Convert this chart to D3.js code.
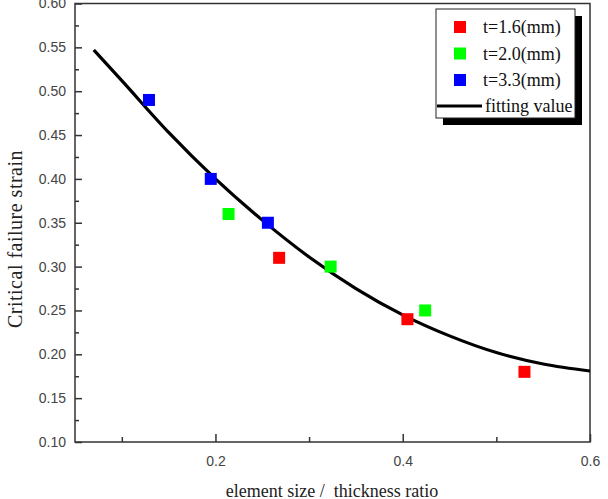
<!DOCTYPE html>
<html lang="en">
<head>
  <meta charset="UTF-8">
  <script src="https://d3js.org/d3.v7.min.js"></script>
  <title>Critical failure strain</title>
  <style>
    body { margin:0; background:#fff; }
    .tick text { font-family: 'Liberation Sans', Arial, sans-serif; font-size:14px; fill:#444; }
    .axisTitle { font-family: 'Liberation Serif', 'Times New Roman', serif; fill:#222; white-space:pre; }
    .legendText { font-family: 'Liberation Serif', 'Times New Roman', serif; font-size:18px; fill:#111; }
  </style>
</head>
<body>
<div id="myDataViz"></div>
<script>
  // data
  let seriesNames = ['t=1.6(mm)', 't=2.0(mm)', 't=3.3(mm)']
  let seriesColors = ['#ff0000', '#00ff00', '#0000ff']
  let ratio16 = [0.268, 0.405, 0.530]
  let strain16 = [0.31, 0.24, 0.18]
  let ratio20 = [0.214, 0.323, 0.424]
  let strain20 = [0.36, 0.30, 0.25]
  let ratio33 = [0.129, 0.195, 0.256]
  let strain33 = [0.49, 0.40, 0.35]
  let fitRatio = [0.07, 0.1, 0.15, 0.2, 0.25, 0.3, 0.35, 0.4, 0.45, 0.5, 0.55, 0.6]
  let fitStrain = [0.547, 0.512, 0.453, 0.400, 0.353, 0.311, 0.275, 0.245, 0.221, 0.202, 0.189, 0.181]
  let xTicks = [0.2, 0.4, 0.6]
  let xMinorTicks = [0.1, 0.3, 0.5]
  let yTicks = [0.10, 0.15, 0.20, 0.25, 0.30, 0.35, 0.40, 0.45, 0.50, 0.55, 0.60]
  let yMinorTicks = [0.125, 0.175, 0.225, 0.275, 0.325, 0.375, 0.425, 0.475, 0.525, 0.575]

  let width = 608, height = 499
  let plotLeft = 75, plotRight = 590, plotTop = 3.5, plotBottom = 442

  let svg = d3.select("#myDataViz").append("svg")
          .attr("width", width)
          .attr("height", height)

  let xScale = d3.scaleLinear().domain([0.05, 0.6]).range([plotLeft, plotRight])
  let yScale = d3.scaleLinear().domain([0.10, 0.60]).range([plotBottom, plotTop])

  // axes, ticks pointing inwards
  let xAxis = svg.append("g")
          .attr("transform", "translate(0," + plotBottom + ")")
          .call(d3.axisBottom(xScale).tickValues(xTicks).tickSize(-8).tickPadding(14).tickFormat(d3.format(".1f")))
  let xMinor = svg.append("g")
          .attr("transform", "translate(0," + plotBottom + ")")
          .call(d3.axisBottom(xScale).tickValues(xMinorTicks).tickSize(-5).tickFormat(""))
  let yAxis = svg.append("g")
          .attr("transform", "translate(" + plotLeft + ",0)")
          .call(d3.axisLeft(yScale).tickValues(yTicks).tickSize(-7).tickPadding(9).tickFormat(d3.format(".2f")))
  let yMinor = svg.append("g")
          .attr("transform", "translate(" + plotLeft + ",0)")
          .call(d3.axisLeft(yScale).tickValues(yMinorTicks).tickSize(-4).tickFormat(""))

  svg.selectAll(".domain").remove()
  svg.selectAll(".tick line").attr("stroke", "#333").attr("stroke-width", 1.5)

  // frame
  svg.append("rect")
          .attr("x", plotLeft).attr("y", plotTop)
          .attr("width", plotRight - plotLeft).attr("height", plotBottom - plotTop)
          .attr("fill", "none").attr("stroke", "#333").attr("stroke-width", 1.5)

  // fitting curve
  let fitData = fitRatio.map((d, i) => ({x: d, y: fitStrain[i]}))
  let line = d3.line()
          .x(d => xScale(d.x))
          .y(d => yScale(d.y))
          .curve(d3.curveMonotoneX)
  svg.append("path")
          .attr("d", line(fitData))
          .attr("fill", "none")
          .attr("stroke", "#000")
          .attr("stroke-width", 3.2)

  // squares for each thickness
  let groups = [[ratio16, strain16], [ratio20, strain20], [ratio33, strain33]]
  groups.forEach((g, k) => {
    let pts = g[0].map((d, i) => ({x: d, y: g[1][i]}))
    svg.append("g").selectAll("rect")
            .data(pts)
            .join("rect")
            .attr("x", d => xScale(d.x) - 6)
            .attr("y", d => yScale(d.y) - 6)
            .attr("width", 12)
            .attr("height", 12)
            .attr("fill", seriesColors[k])
  })

  // legend with drop shadow
  let lx = 436, ly = 9, lw = 139, lh = 109
  svg.append("rect").attr("x", lx + 7).attr("y", ly + 7).attr("width", lw).attr("height", lh).attr("fill", "#000")
  svg.append("rect").attr("x", lx).attr("y", ly).attr("width", lw).attr("height", lh)
          .attr("fill", "#fff").attr("stroke", "#222").attr("stroke-width", 1)
  seriesNames.forEach((name, i) => {
    let cy = 27 + i * 26.5
    svg.append("rect").attr("x", 454).attr("y", cy - 6).attr("width", 12).attr("height", 12).attr("fill", seriesColors[i])
    svg.append("text").attr("class", "legendText").attr("x", 483).attr("y", cy + 6).text(name)
  })
  svg.append("line").attr("x1", 437).attr("x2", 482).attr("y1", 106).attr("y2", 106)
          .attr("stroke", "#000").attr("stroke-width", 3)
  svg.append("text").attr("class", "legendText").attr("x", 485).attr("y", 112).text("fitting value")

  // axis titles
  svg.append("text")
          .attr("class", "axisTitle")
          .attr("text-anchor", "middle")
          .attr("transform", "translate(22,239) rotate(-90)")
          .style("font-size", "20px")
          .style("letter-spacing", "0.5px")
          .text("Critical failure strain")
  svg.append("text")
          .attr("class", "axisTitle")
          .attr("text-anchor", "middle")
          .attr("x", 332)
          .attr("y", 497)
          .style("font-size", "18px")
          .text("element size /  thickness ratio")
</script>
</body>
</html>
